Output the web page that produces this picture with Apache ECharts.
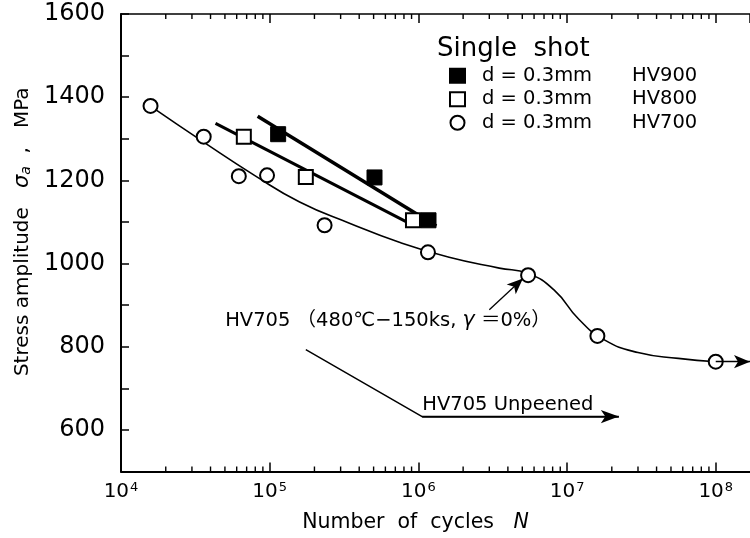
<!DOCTYPE html>
<html>
<head>
<meta charset="utf-8">
<script src="https://cdn.jsdelivr.net/npm/echarts@6/dist/echarts.min.js"></script>
<style>
  html, body { margin: 0; padding: 0; background: #fff; }
  #chart { width: 750px; height: 538px; }
</style>
</head>
<body>
<div id="chart"></div>
<script>
// S-N data (N = cycles, y = stress amplitude in MPa)
const hv900N = [1.14e5, 5.07e5, 1.17e6];
const hv900S = [1311, 1207, 1104];
const hv800N = [6.7e4, 1.75e5, 9.2e5];
const hv800S = [1305, 1208, 1104];
const hv700N = [1.58e4, 3.6e4, 6.2e4, 9.6e4, 2.34e5, 1.16e6, 5.47e6, 1.6e7, 1.0e8];
const hv700S = [1379, 1305, 1210, 1212, 1092, 1027, 972, 826, 764];

// fitted lines / curve
const fit900N = [8.3e4, 1.32e6];
const fit900S = [1354, 1090];
const fit800N = [4.32e4, 8.98e5];
const fit800S = [1337, 1094];
const curveN = [1.57e4, 3.66e4, 7.9e4, 1.59e5, 3.44e5, 7.45e5, 1.61e6, 3.5e6, 5.47e6, 8.2e6, 1.2e7, 1.77e7, 3.0e7, 5.6e7, 1.0e8];
const curveS = [1379, 1290, 1212, 1148, 1097, 1051, 1015, 989, 976, 936, 866, 817, 786, 772, 764];

// unpeened run-out polyline
const unpeenedN = [1.75e5, 1.06e6, 2.23e7];
const unpeenedS = [793, 632, 632];

const legendNames = ["HV900", "HV800", "HV700"];
const xMin = 1e4, xMax = 1.7e8;
const yMin = 500, yMax = 1600;

const FONT = "'DejaVu Sans', 'Noto Sans CJK JP', sans-serif";

const zip = (a, b) => a.map((v, i) => [v, b[i]]);

// log minor ticks 2..9 x 10^n
const minorTicks = [];
for (let e = 4; e <= 8; e++) {
  for (let k = 2; k <= 9; k++) {
    const v = k * Math.pow(10, e);
    if (v < xMax) minorTicks.push([v, yMin]);
  }
}

const chart = echarts.init(document.getElementById("chart"));

const supLabel = (v) => {
  const e = Math.round(Math.log10(v));
  if (Math.abs(Math.log10(v) - e) > 1e-6) return "";
  return "{b|10}{s|" + e + "}";
};

chart.setOption({
  animation: false,
  backgroundColor: "#fff",
  textStyle: { fontFamily: FONT, color: "#000" },
  title: {
    text: "Single  shot",
    left: 432,
    top: 31,
    textStyle: { fontFamily: FONT, fontSize: 26, fontWeight: "normal", color: "#000" },
  },
  legend: {
    orient: "vertical",
    left: 444,
    top: 61,
    itemWidth: 15,
    itemHeight: 14,
    itemGap: 4,
    data: legendNames,
    formatter: (n) => "{a|d = 0.3mm}{b|" + n + "}",
    textStyle: {
      color: "#000",
      rich: {
        a: { fontFamily: FONT, fontSize: 19.5, lineHeight: 22, width: 150, padding: [0, 0, 0, 12], color: "#000" },
        b: { fontFamily: FONT, fontSize: 19.5, lineHeight: 22, color: "#000" },
      },
    },
  },
  grid: { left: 121, top: 14, right: 0, bottom: 66, containLabel: false },
  xAxis: [
    {
      type: "log",
      logBase: 10,
      min: xMin,
      max: xMax,
      position: "bottom",
      axisLine: { lineStyle: { color: "#000", width: 2 } },
      axisTick: { inside: true, length: 9, lineStyle: { color: "#000", width: 1.5 } },
      axisLabel: {
        formatter: supLabel,
        showMaxLabel: false,
        margin: 10,
        rich: {
          b: { fontFamily: FONT, fontSize: 20, color: "#000" },
          s: { fontFamily: FONT, fontSize: 13, color: "#000", verticalAlign: "top", padding: [0, 0, 8, 1] },
        },
      },
      splitLine: { show: false },
      name: "{n|Number  of  cycles   }{i|N}",
      nameLocation: "middle",
      nameGap: 41,
      nameTextStyle: {
        padding: [0, 40, 0, 0],
        rich: {
          n: { fontFamily: FONT, fontSize: 20.5, color: "#000" },
          i: { fontFamily: FONT, fontSize: 20.5, fontStyle: "italic", color: "#000" },
        },
      },
    },
    {
      type: "log",
      logBase: 10,
      min: xMin,
      max: xMax,
      position: "top",
      axisLine: { lineStyle: { color: "#000", width: 1.5 } },
      axisTick: { inside: true, length: 9, lineStyle: { color: "#000", width: 1.5 } },
      axisLabel: { show: false },
      splitLine: { show: false },
    },
  ],
  yAxis: {
    type: "value",
    min: yMin,
    max: yMax,
    interval: 100,
    axisLine: { show: true, lineStyle: { color: "#000", width: 2 } },
    axisTick: { inside: true, length: 8, lineStyle: { color: "#000", width: 1.5 } },
    axisLabel: {
      formatter: (v) => (v % 200 === 0 ? String(v) : ""),
      fontFamily: FONT,
      fontSize: 24,
      color: "#000",
      margin: 16,
    },
    splitLine: { show: false },
    name: "{n|Stress amplitude   }{s|σ}{u|a}{n|  ,   MPa}",
    nameLocation: "middle",
    nameGap: 86,
    nameTextStyle: {
      padding: [0, 0, 0, 22],
      rich: {
        n: { fontFamily: FONT, fontSize: 20, color: "#000" },
        s: { fontFamily: FONT, fontSize: 21, fontStyle: "italic", color: "#000" },
        u: { fontFamily: FONT, fontSize: 14, fontStyle: "italic", color: "#000", verticalAlign: "bottom", padding: [6, 0, 0, 0] },
      },
    },
  },
  series: [
    {
      name: "minor ticks",
      type: "custom",
      silent: true,
      data: minorTicks,
      renderItem: (params, api) => {
        const b = api.coord([api.value(0), yMin]);
        const t = api.coord([api.value(0), yMax]);
        return {
          type: "group",
          children: [
            { type: "line", shape: { x1: b[0], y1: b[1], x2: b[0], y2: b[1] - 5 }, style: { stroke: "#000", lineWidth: 1.4 } },
            { type: "line", shape: { x1: t[0], y1: t[1], x2: t[0], y2: t[1] + 5 }, style: { stroke: "#000", lineWidth: 1.4 } },
          ],
        };
      },
      z: 1,
    },
    {
      name: "fit900",
      type: "line",
      data: zip(fit900N, fit900S),
      showSymbol: false,
      lineStyle: { color: "#000", width: 3.5 },
      z: 2,
    },
    {
      name: "fit800",
      type: "line",
      data: zip(fit800N, fit800S),
      showSymbol: false,
      lineStyle: { color: "#000", width: 3 },
      z: 2,
    },
    {
      name: "curve700",
      type: "line",
      data: zip(curveN, curveS),
      showSymbol: false,
      smooth: 0.5,
      lineStyle: { color: "#000", width: 1.6 },
      markLine: {
        silent: true,
        symbol: ["none", "arrow"],
        symbolSize: [10, 16],
        label: { show: false },
        lineStyle: { color: "#000", width: 1.3, type: "solid" },
        data: [
          [{ coord: [3.0e6, 889] }, { coord: [5.05e6, 964] }],
          [{ coord: [1.0e8, 764] }, { coord: [xMax, 764] }],
        ],
      },
      markPoint: {
        silent: true,
        symbol: "circle",
        symbolSize: 0,
        label: {
          show: true,
          position: "inside",
          color: "#000",
          formatter: (p) => p.name,
          rich: {
            t: { fontFamily: FONT, fontSize: 19.5, color: "#000" },
            g: { fontFamily: FONT, fontSize: 20.5, fontStyle: "italic", color: "#000" },
          },
        },
        data: [
          { name: "{t|HV705 （480℃−150ks, }{g|γ}{t| ＝0%）}", coord: [6.25e5, 863] },
          { name: "{t|HV705 Unpeened}", coord: [4.0e6, 661] },
        ],
      },
      z: 2,
    },
    {
      name: "unpeened",
      type: "line",
      data: zip(unpeenedN, unpeenedS),
      showSymbol: false,
      lineStyle: { color: "#000", width: 1.5 },
      markLine: {
        silent: true,
        symbol: ["none", "arrow"],
        symbolSize: [10, 18],
        label: { show: false },
        lineStyle: { color: "#000", width: 1.5, type: "solid" },
        data: [[{ coord: [unpeenedN[1], unpeenedS[1]] }, { coord: [unpeenedN[2], unpeenedS[2]] }]],
      },
      z: 2,
    },
    {
      name: "HV900",
      type: "scatter",
      data: zip(hv900N, hv900S),
      symbol: "rect",
      symbolSize: 15,
      itemStyle: { color: "#000", borderColor: "#000", borderWidth: 1, opacity: 1 },
      z: 4,
    },
    {
      name: "HV800",
      type: "scatter",
      data: zip(hv800N, hv800S),
      symbol: "rect",
      symbolSize: 14,
      itemStyle: { color: "#fff", borderColor: "#000", borderWidth: 2, opacity: 1 },
      z: 4,
    },
    {
      name: "HV700",
      type: "scatter",
      data: zip(hv700N, hv700S),
      symbol: "circle",
      symbolSize: 14,
      itemStyle: { color: "#fff", borderColor: "#000", borderWidth: 2, opacity: 1 },
      z: 4,
    },
  ],
});
</script>
</body>
</html>
